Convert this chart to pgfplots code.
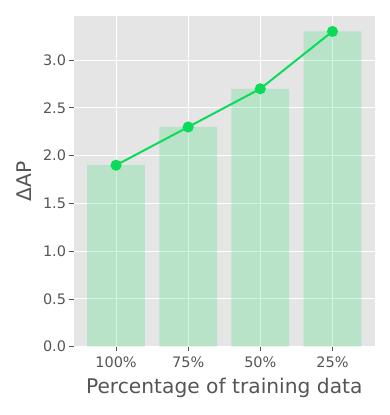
\documentclass[border=0pt]{standalone}
\usepackage{pgfplots}
\pgfplotsset{compat=1.18}
\usepackage{fontspec}
\setmainfont{DejaVu Sans}
\definecolor{bg}{HTML}{E5E5E5}
\definecolor{lg}{HTML}{0ADC5A}
\definecolor{tx}{HTML}{555555}
\begin{document}
\begin{tikzpicture}[x=1bp,y=1bp]
\useasboundingbox (0,0) rectangle (390,415);
\begin{axis}[
 at={(73.5bp,68.3bp)}, anchor=south west,
 scale only axis, width=301.5bp, height=331bp,
 xmin=-0.59, xmax=3.59, ymin=0, ymax=3.465,
 axis background/.style={fill=bg},
 axis line style={draw=none},
 grid=major, major grid style={white, line width=1.1bp},
 xtick={0,1,2,3}, xticklabels={100\%,75\%,50\%,25\%},
 ytick={0,0.5,...,3.0},
 /pgf/number format/assume math mode=true,
 yticklabel style={/pgf/number format/fixed, /pgf/number format/fixed zerofill, /pgf/number format/precision=1},
 xticklabel style={yshift=-2.5bp},
 tick align=outside, major tick length=4bp,
 tick style={tx, line width=0.8bp},
 tick pos=left,
 ticklabel style={font=\fontsize{14.5}{17}\selectfont, text=tx},
 label style={font=\fontsize{20.3}{24}\selectfont, text=tx},
 xlabel={Percentage of training data},
 ylabel={ΔAP},
 xlabel style={at={(axis description cs:0.5,-0.1408)}, anchor=base},
 ylabel style={at={(axis description cs:-0.139,0.5)}, anchor=base, rotate=0},
]
\addplot[ybar, bar width=0.8, fill=lg, fill opacity=0.2, draw=none] coordinates {(0,1.9)(1,2.3)(2,2.7)(3,3.3)};
\addplot[lg, line width=2bp, mark=*, mark size=4.5bp, mark options={fill=lg, draw=lg}] coordinates {(0,1.9)(1,2.3)(2,2.7)(3,3.3)};
\end{axis}
\end{tikzpicture}
\end{document}
